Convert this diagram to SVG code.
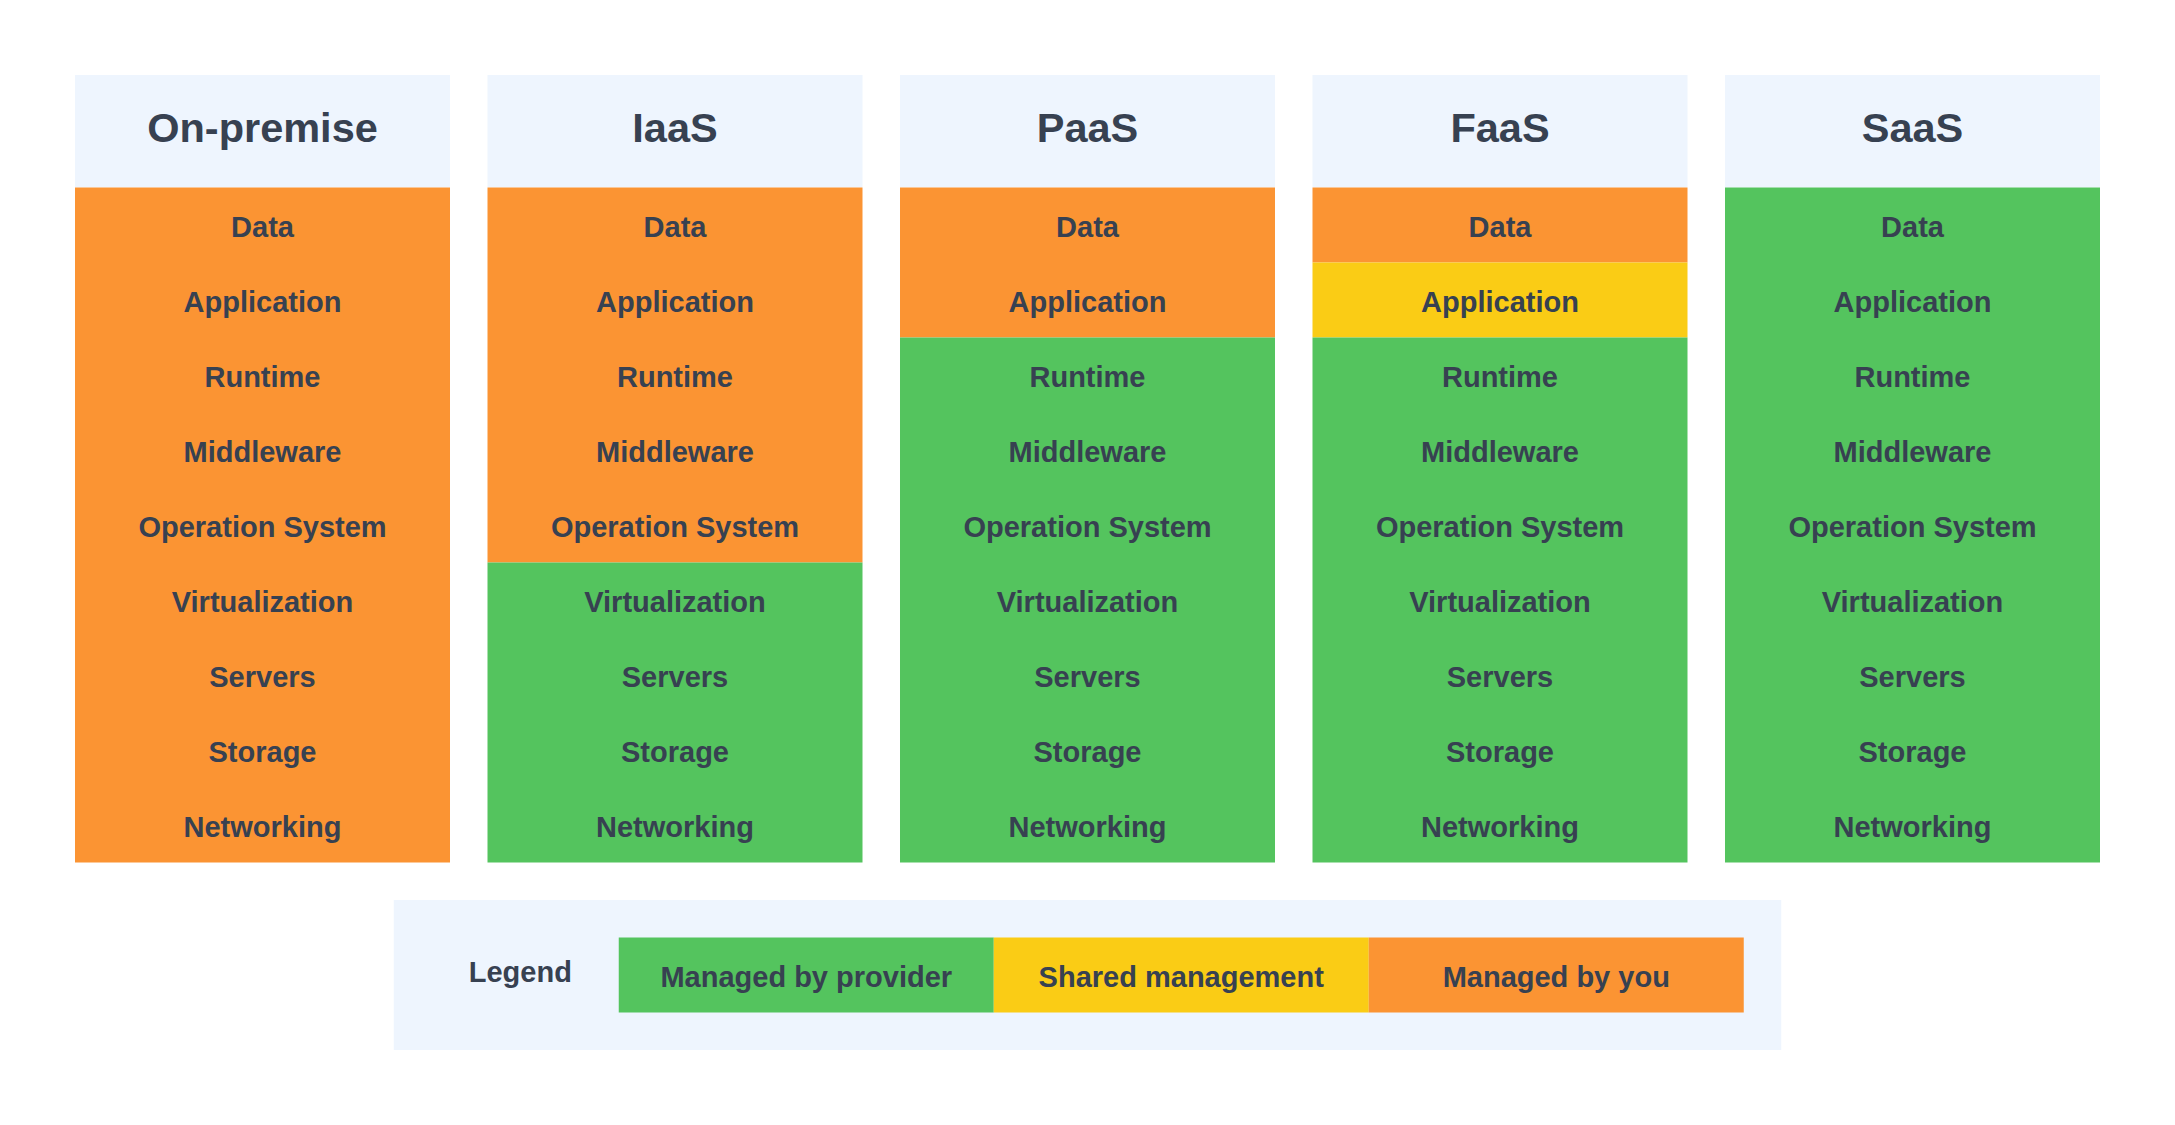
<svg xmlns="http://www.w3.org/2000/svg" width="2175" height="1125" viewBox="0 0 2175 1125">
<style>
.hdr{fill:#EEF5FE}
.you{fill:#FB9433}
.prov{fill:#54C45E}
.shared{fill:#FACC15}
text{font-family:"Liberation Sans",Arial,sans-serif;font-weight:bold;fill:#374151;text-anchor:middle}
.ht{font-size:41.5px}
.rt{font-size:29px}
.lt{font-size:29px}
</style>
<rect width="2175" height="1125" fill="#FFFFFF"/>
<g id="col-onpremise">
<rect class="hdr" x="75" y="75" width="375" height="112.5"/>
<text class="ht" x="262.5" y="141.5">On-premise</text>
<rect class="you" x="75" y="187.5" width="375" height="675"/>
<text class="rt" x="262.5" y="237">Data</text>
<text class="rt" x="262.5" y="312">Application</text>
<text class="rt" x="262.5" y="387">Runtime</text>
<text class="rt" x="262.5" y="462">Middleware</text>
<text class="rt" x="262.5" y="537">Operation System</text>
<text class="rt" x="262.5" y="612">Virtualization</text>
<text class="rt" x="262.5" y="687">Servers</text>
<text class="rt" x="262.5" y="762">Storage</text>
<text class="rt" x="262.5" y="837">Networking</text>
</g>
<g id="col-iaas">
<rect class="hdr" x="487.5" y="75" width="375" height="112.5"/>
<text class="ht" x="675" y="141.5">IaaS</text>
<rect class="you" x="487.5" y="187.5" width="375" height="375"/>
<rect class="prov" x="487.5" y="562.5" width="375" height="300"/>
<text class="rt" x="675" y="237">Data</text>
<text class="rt" x="675" y="312">Application</text>
<text class="rt" x="675" y="387">Runtime</text>
<text class="rt" x="675" y="462">Middleware</text>
<text class="rt" x="675" y="537">Operation System</text>
<text class="rt" x="675" y="612">Virtualization</text>
<text class="rt" x="675" y="687">Servers</text>
<text class="rt" x="675" y="762">Storage</text>
<text class="rt" x="675" y="837">Networking</text>
</g>
<g id="col-paas">
<rect class="hdr" x="900" y="75" width="375" height="112.5"/>
<text class="ht" x="1087.5" y="141.5">PaaS</text>
<rect class="you" x="900" y="187.5" width="375" height="150"/>
<rect class="prov" x="900" y="337.5" width="375" height="525"/>
<text class="rt" x="1087.5" y="237">Data</text>
<text class="rt" x="1087.5" y="312">Application</text>
<text class="rt" x="1087.5" y="387">Runtime</text>
<text class="rt" x="1087.5" y="462">Middleware</text>
<text class="rt" x="1087.5" y="537">Operation System</text>
<text class="rt" x="1087.5" y="612">Virtualization</text>
<text class="rt" x="1087.5" y="687">Servers</text>
<text class="rt" x="1087.5" y="762">Storage</text>
<text class="rt" x="1087.5" y="837">Networking</text>
</g>
<g id="col-faas">
<rect class="hdr" x="1312.5" y="75" width="375" height="112.5"/>
<text class="ht" x="1500" y="141.5">FaaS</text>
<rect class="you" x="1312.5" y="187.5" width="375" height="75"/>
<rect class="shared" x="1312.5" y="262.5" width="375" height="75"/>
<rect class="prov" x="1312.5" y="337.5" width="375" height="525"/>
<text class="rt" x="1500" y="237">Data</text>
<text class="rt" x="1500" y="312">Application</text>
<text class="rt" x="1500" y="387">Runtime</text>
<text class="rt" x="1500" y="462">Middleware</text>
<text class="rt" x="1500" y="537">Operation System</text>
<text class="rt" x="1500" y="612">Virtualization</text>
<text class="rt" x="1500" y="687">Servers</text>
<text class="rt" x="1500" y="762">Storage</text>
<text class="rt" x="1500" y="837">Networking</text>
</g>
<g id="col-saas">
<rect class="hdr" x="1725" y="75" width="375" height="112.5"/>
<text class="ht" x="1912.5" y="141.5">SaaS</text>
<rect class="prov" x="1725" y="187.5" width="375" height="675"/>
<text class="rt" x="1912.5" y="237">Data</text>
<text class="rt" x="1912.5" y="312">Application</text>
<text class="rt" x="1912.5" y="387">Runtime</text>
<text class="rt" x="1912.5" y="462">Middleware</text>
<text class="rt" x="1912.5" y="537">Operation System</text>
<text class="rt" x="1912.5" y="612">Virtualization</text>
<text class="rt" x="1912.5" y="687">Servers</text>
<text class="rt" x="1912.5" y="762">Storage</text>
<text class="rt" x="1912.5" y="837">Networking</text>
</g>
<g id="legend">
<rect class="hdr" x="393.75" y="900" width="1387.5" height="150"/>
<text class="rt" x="520.3" y="982.3">Legend</text>
<rect class="prov" x="618.75" y="937.5" width="375" height="75"/>
<text class="lt" x="806.25" y="987.3">Managed by provider</text>
<rect class="shared" x="993.75" y="937.5" width="375" height="75"/>
<text class="lt" x="1181.25" y="987.3">Shared management</text>
<rect class="you" x="1368.75" y="937.5" width="375" height="75"/>
<text class="lt" x="1556.25" y="987.3">Managed by you</text>
</g>
<g id="connectors"/>
</svg>
